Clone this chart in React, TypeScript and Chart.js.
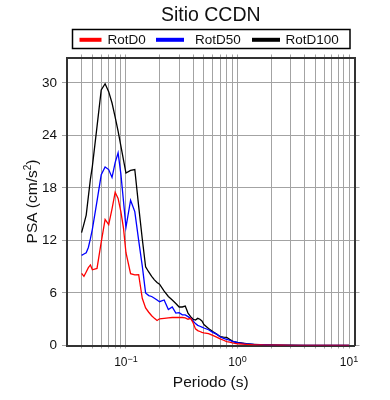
import React, { useEffect, useRef } from "react";
import { Chart, registerables } from "chart.js";

Chart.register(...registerables);

const TITLE = "Sitio CCDN";
const X_TITLE = "Periodo (s)";
const Y_TITLE_MAIN = "PSA (cm/s";
const Y_TITLE_SUP = "2";
const Y_TITLE_END = ")";

const seriesNames = ["RotD0", "RotD50", "RotD100"];
const seriesColors = ["#ff0000", "#0000ff", "#000000"];

const periods = [
  0.04, 0.042, 0.044, 0.046, 0.048, 0.05, 0.055, 0.06, 0.065, 0.07,
  0.075, 0.08, 0.085, 0.09, 0.095, 0.1, 0.11, 0.12, 0.13, 0.14,
  0.15, 0.16, 0.17, 0.18, 0.19, 0.2, 0.22, 0.24, 0.26, 0.28,
  0.3, 0.32, 0.34, 0.36, 0.38, 0.4, 0.42, 0.44, 0.46, 0.48,
  0.5, 0.55, 0.6, 0.65, 0.7, 0.75, 0.8, 0.85, 0.9, 0.95,
  1.0, 1.2, 1.4, 1.6, 1.8, 2.0, 2.5, 3.0, 4.0, 5.0,
  6.0, 7.5, 10.0,
];

const rotD0 = [
  8.25, 7.9, 8.4, 8.9, 9.2, 8.65, 8.8, 11.8, 14.4, 13.8,
  15.6, 17.5, 16.8, 15.3, 13.4, 10.6, 8.2, 8.06, 8.1, 5.4,
  4.3, 3.8, 3.4, 3.1, 2.85, 3.05, 3.1, 3.15, 3.2, 3.2,
  3.2, 3.2, 3.15, 3.0, 3.1, 2.6, 1.9, 1.7, 1.6, 1.5,
  1.45, 1.35, 1.15, 0.95, 0.75, 0.6, 0.45, 0.38, 0.3, 0.24,
  0.2, 0.12, 0.08, 0.06, 0.05, 0.04, 0.03, 0.02, 0.015, 0.01,
  0.008, 0.005, 0.003,
];

const rotD50 = [
  10.3, 10.45, 10.6, 11.2, 12.2, 13.3, 16.5, 19.5, 20.4, 20.1,
  19.2, 20.9, 22.0, 19.6, 16.5, 13.5, 16.6, 15.3, 12.0, 9.1,
  6.0, 5.7, 5.6, 5.4, 5.2, 5.0, 5.2, 4.1, 4.4, 3.7,
  3.75, 3.5, 3.5, 3.3, 3.1, 2.8, 2.5, 2.3, 2.2, 2.1,
  2.0, 1.8, 1.5, 1.3, 1.0, 0.82, 0.7, 0.6, 0.48, 0.4,
  0.32, 0.18, 0.12, 0.09, 0.07, 0.05, 0.035, 0.025, 0.018, 0.012,
  0.009, 0.006, 0.004,
];

const rotD100 = [
  12.9, 13.9, 14.9, 17.0, 19.0, 20.5, 25.0, 29.2, 29.9, 29.0,
  27.7, 26.1, 24.5, 22.8, 21.2, 19.7, 20.0, 20.1, 15.9, 12.2,
  9.0, 8.4, 7.9, 7.5, 7.2, 7.0, 6.2, 5.6, 5.2, 4.8,
  4.4, 4.4, 4.5, 3.7, 3.3, 3.0, 2.9, 3.1, 3.0, 2.8,
  2.4, 1.95, 1.6, 1.3, 1.0, 0.95, 0.94, 0.7, 0.5, 0.4,
  0.35, 0.2, 0.14, 0.1, 0.08, 0.06, 0.04, 0.03, 0.02, 0.015,
  0.01, 0.008, 0.005,
];

const yTicks = [0, 6, 12, 18, 24, 30];
const xGridTicks = [
  0.04, 0.05, 0.06, 0.07, 0.08, 0.09,
  0.1, 0.2, 0.3, 0.4, 0.5, 0.6, 0.7, 0.8, 0.9,
  1, 2, 3, 4, 5, 6, 7, 8, 9, 10,
];
const xMajorTicks = [0.1, 1, 10];
const xMajorExp = ["\u22121", "0", "1"];

const X_MIN = 0.0296;
const X_MAX = 11.2;
const Y_MIN = 0;
const Y_MAX = 32.9;

const FONT = '"Liberation Sans", Arial, Helvetica, sans-serif';
const GRID = "#a3a3a3";
const FRAME = "#333333";
const TEXT = "#111111";

const decorPlugin = {
  id: "decor",
  afterDraw(chart: any) {
    const ctx = chart.ctx as CanvasRenderingContext2D;
    const area = chart.chartArea;
    const xs = chart.scales.x;
    const cx = (area.left + area.right) / 2;
    const cy = (area.top + area.bottom) / 2;
    ctx.save();
    ctx.fillStyle = TEXT;
    ctx.textBaseline = "alphabetic";

    // Title
    ctx.font = `19.5px ${FONT}`;
    ctx.textAlign = "center";
    ctx.fillText(TITLE, cx, 20.5);

    // Legend box
    ctx.strokeStyle = "#000";
    ctx.lineWidth = 1.5;
    ctx.strokeRect(72.5, 29.5, 277.5, 19);
    const lineStarts = [79.5, 156, 252];
    const lineEnds = [101.5, 184, 280];
    const textStarts = [107.5, 195, 285.5];
    ctx.font = `13.5px ${FONT}`;
    ctx.textAlign = "left";
    chart.data.datasets.forEach((ds: any, i: number) => {
      ctx.strokeStyle = ds.borderColor;
      ctx.lineWidth = 4;
      ctx.beginPath();
      ctx.moveTo(lineStarts[i], 39.8);
      ctx.lineTo(lineEnds[i], 39.8);
      ctx.stroke();
      ctx.fillStyle = TEXT;
      ctx.fillText(ds.label, textStarts[i], 43.8);
    });

    // X tick labels (10^n)
    xMajorTicks.forEach((v, i) => {
      const px = xs.getPixelForValue(v);
      ctx.font = `12px ${FONT}`;
      const w1 = ctx.measureText("10").width;
      ctx.font = `9px ${FONT}`;
      const w2 = ctx.measureText(xMajorExp[i]).width;
      const start = px - (w1 + w2) / 2;
      ctx.textAlign = "left";
      ctx.font = `12px ${FONT}`;
      ctx.fillText("10", start, 366);
      ctx.font = `9px ${FONT}`;
      ctx.fillText(xMajorExp[i], start + w1, 361.5);
    });

    // X title
    ctx.font = `15.5px ${FONT}`;
    ctx.textAlign = "center";
    ctx.fillText(X_TITLE, cx, 387);

    // Y title (rotated, with superscript)
    ctx.translate(36.5, cy);
    ctx.rotate(-Math.PI / 2);
    ctx.font = `15.5px ${FONT}`;
    const wa = ctx.measureText(Y_TITLE_MAIN).width;
    const wc = ctx.measureText(Y_TITLE_END).width;
    ctx.font = `10px ${FONT}`;
    const wb = ctx.measureText(Y_TITLE_SUP).width;
    const s = -(wa + wb + wc) / 2;
    ctx.textAlign = "left";
    ctx.font = `15.5px ${FONT}`;
    ctx.fillText(Y_TITLE_MAIN, s, 0);
    ctx.font = `10px ${FONT}`;
    ctx.fillText(Y_TITLE_SUP, s + wa, -6);
    ctx.font = `15.5px ${FONT}`;
    ctx.fillText(Y_TITLE_END, s + wa + wb, 0);

    ctx.restore();
  },
};

export default function App() {
  const ref = useRef<HTMLCanvasElement | null>(null);

  useEffect(() => {
    if (!ref.current) return;
    const series = [rotD0, rotD50, rotD100];
    const setX = (s: any) => {
      s.ticks = xGridTicks.map((v) => ({ value: v }));
    };
    const setY = (s: any) => {
      s.ticks = yTicks.map((v) => ({ value: v }));
    };
    const chart = new Chart(ref.current, {
      type: "line",
      data: {
        datasets: series.map((vals, i) => ({
          label: seriesNames[i],
          data: periods.map((p, j) => ({ x: p, y: vals[j] })),
          borderColor: seriesColors[i],
          backgroundColor: seriesColors[i],
          borderWidth: 1.3,
          pointRadius: 0,
          tension: 0,
          fill: false,
        })),
      },
      options: {
        animation: false,
        responsive: false,
        devicePixelRatio: 1,
        layout: { padding: 0, autoPadding: false },
        plugins: {
          legend: { display: false },
          title: { display: false },
          tooltip: { enabled: false },
        },
        scales: {
          x: {
            type: "logarithmic",
            position: "bottom",
            min: X_MIN,
            max: X_MAX,
            afterBuildTicks: setX,
            afterFit: (s: any) => {
              s.height = 54.5;
            },
            ticks: { display: false },
            grid: { color: GRID, lineWidth: 1, drawTicks: true, tickLength: 3 },
            border: { display: true, color: FRAME, width: 2 },
          },
          x2: {
            type: "logarithmic",
            position: "top",
            min: X_MIN,
            max: X_MAX,
            afterBuildTicks: setX,
            afterFit: (s: any) => {
              s.height = 57.5;
            },
            ticks: { display: false },
            grid: { color: GRID, lineWidth: 1, drawOnChartArea: false, drawTicks: true, tickLength: 3 },
            border: { display: true, color: FRAME, width: 2 },
          },
          y: {
            type: "linear",
            position: "left",
            min: Y_MIN,
            max: Y_MAX,
            afterBuildTicks: setY,
            afterFit: (s: any) => {
              s.width = 67;
            },
            ticks: {
              color: TEXT,
              padding: 5,
              font: { family: FONT, size: 13.5 },
            },
            grid: { color: GRID, lineWidth: 1, drawTicks: true, tickLength: 5 },
            border: { display: true, color: FRAME, width: 2 },
          },
          y2: {
            type: "linear",
            position: "right",
            min: Y_MIN,
            max: Y_MAX,
            afterBuildTicks: setY,
            afterFit: (s: any) => {
              s.width = 35.5;
            },
            ticks: { display: false },
            grid: { color: GRID, lineWidth: 1, drawOnChartArea: false, drawTicks: true, tickLength: 5 },
            border: { display: true, color: FRAME, width: 2 },
          },
        },
      },
      plugins: [decorPlugin],
    } as any);
    return () => chart.destroy();
  }, []);

  return (
    <div style={{ position: "fixed", left: 0, top: 0, width: 390, height: 400, background: "#fff" }}>
      <canvas ref={ref} width={390} height={400} style={{ display: "block", width: 390, height: 400 }} />
    </div>
  );
}
